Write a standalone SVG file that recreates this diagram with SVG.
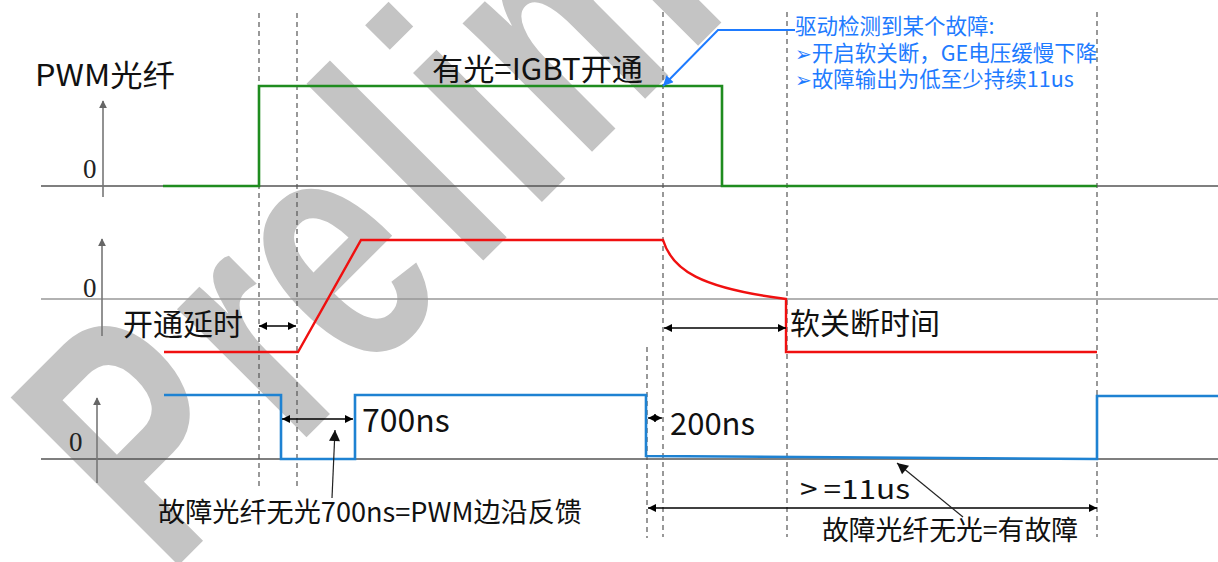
<svg xmlns="http://www.w3.org/2000/svg" width="1218" height="562" viewBox="0 0 1218 562">
<style>
.wm{font-family:"Liberation Sans",Arial,sans-serif;font-weight:bold;font-size:345px;fill:#c4c4c4}
.base{stroke:#555;stroke-width:1.6;fill:none}
.base2{stroke:#999;stroke-width:1.6;fill:none}
.guide{stroke:#555;stroke-width:1.2;stroke-dasharray:5,4;fill:none}
.yax{stroke:#777;stroke-width:1.6;fill:none}
.t{font-family:"Noto Sans CJK SC","Noto Sans",sans-serif;fill:#111}
.z{font-family:"Liberation Serif",serif;font-size:27px;fill:#222}
.blue{font-family:"Noto Sans CJK SC","Noto Sans",sans-serif;font-size:21.5px;fill:#1e7bff}
.bul{font-family:"DejaVu Sans",sans-serif;font-size:20px}
.dim{stroke:#000;stroke-width:1.3;fill:none}
.ptr{stroke:#222;stroke-width:1.2;fill:none}
</style>
<defs>
<marker id="ya" viewBox="0 0 10 10" refX="9" refY="5" markerWidth="8" markerHeight="12" markerUnits="userSpaceOnUse" orient="auto"><path d="M0,0 L10,5 L0,10 z" fill="#666"/></marker>
<marker id="da" viewBox="0 0 10 10" refX="10" refY="5" markerWidth="10" markerHeight="8" markerUnits="userSpaceOnUse" orient="auto-start-reverse"><path d="M0,0 L10,5 L0,10 z" fill="#000"/></marker>
<marker id="pa" viewBox="0 0 10 10" refX="10" refY="5" markerWidth="15" markerHeight="11" markerUnits="userSpaceOnUse" orient="auto"><path d="M0,0 L10,5 L0,10 z" fill="#111"/></marker>
<marker id="ba" viewBox="0 0 10 10" refX="10" refY="5" markerWidth="13" markerHeight="10" markerUnits="userSpaceOnUse" orient="auto"><path d="M0,0 L10,5 L0,10 z" fill="#1e7bff"/></marker>
</defs>
<rect width="1218" height="562" fill="#fff"/>
<g id="watermark"><text class="wm" transform="rotate(-45) scale(0.7,1)" x="-414" y="526" dx="0 27.6 0 31 22.6 5.4">Preliminary</text></g>
<g id="axes">
<line class="base" x1="41" y1="186" x2="1218" y2="186"/>
<line class="base2" x1="41" y1="299" x2="1218" y2="299"/>
<line class="base" x1="41" y1="459" x2="1218" y2="459"/>
<line class="yax" x1="103" y1="197" x2="103" y2="101" marker-end="url(#ya)"/>
<line class="yax" x1="102" y1="336" x2="102" y2="239" marker-end="url(#ya)"/>
<line class="yax" x1="97" y1="483" x2="97" y2="398" marker-end="url(#ya)"/>
<text class="z" x="83" y="178">0</text>
<text class="z" x="83" y="297">0</text>
<text class="z" x="69" y="451">0</text>
</g>
<g id="guides">
<line class="guide" x1="259" y1="13" x2="259" y2="488"/>
<line class="guide" x1="297" y1="13" x2="297" y2="488"/>
<line class="guide" x1="663" y1="12" x2="663" y2="537"/>
<line class="guide" x1="647" y1="347" x2="647" y2="538"/>
<line class="guide" x1="787" y1="12" x2="787" y2="537"/>
<line class="guide" x1="1097" y1="12" x2="1097" y2="537"/>
</g>
<g id="pwm-signal"><path d="M163,186 H259 V86 H722 V186 H1097" fill="none" stroke="#1f8c1f" stroke-width="2.6"/></g>
<g id="ge-signal"><path d="M164,352 H298 L361,240 H663 C672,270 700,288 786,299 V352 H1097" fill="none" stroke="#f01010" stroke-width="2.4"/></g>
<g id="fault-signal"><path d="M164,395 H281 V459 H355 V395 H646 V456 L1097,459 V396 H1218" fill="none" stroke="#1e82d2" stroke-width="2.6"/></g>
<g id="label-pwm"><text class="t" x="35" y="86" font-size="30" textLength="140" lengthAdjust="spacingAndGlyphs">PWM光纤</text></g>
<g id="label-on"><text class="t" x="432" y="80" font-size="30" textLength="211" lengthAdjust="spacingAndGlyphs">有光=IGBT开通</text></g>
<g id="label-delay"><text class="t" x="123" y="335" font-size="30">开通延时</text></g>
<g id="label-soft"><text class="t" x="790" y="334" font-size="30">软关断时间</text></g>
<g id="label-700"><text class="t" x="362" y="432" font-size="32">700ns</text></g>
<g id="label-200"><text class="t" x="670" y="435" font-size="31">200ns</text></g>
<g id="label-edge"><text class="t" x="158" y="522" font-size="27" fill="#222" textLength="424" lengthAdjust="spacingAndGlyphs">故障光纤无光700ns=PWM边沿反馈</text></g>
<g id="label-11us"><text class="t" x="800" y="499" font-size="27" textLength="110" lengthAdjust="spacingAndGlyphs">&gt;<tspan dx="5">=11us</tspan></text></g>
<g id="label-fault"><text class="t" x="822" y="540" font-size="27" fill="#222" textLength="256" lengthAdjust="spacingAndGlyphs">故障光纤无光=有故障</text></g>
<g id="callout">
<text class="blue" x="795" y="34">驱动检测到某个故障:</text>
<text class="blue" x="795" y="61"><tspan class="bul">➢</tspan>开启软关断，GE电压缓慢下降</text>
<text class="blue" x="795" y="87"><tspan class="bul">➢</tspan>故障输出为低至少持续11us</text>
</g>
<g id="connectors">
<line class="dim" x1="259" y1="326" x2="296" y2="326" marker-start="url(#da)" marker-end="url(#da)"/>
<line class="dim" x1="664" y1="328" x2="786" y2="328" marker-start="url(#da)" marker-end="url(#da)"/>
<line class="dim" x1="282" y1="419" x2="353" y2="419" marker-start="url(#da)" marker-end="url(#da)"/>
<line class="dim" x1="648" y1="418" x2="662" y2="418" stroke-width="1" marker-start="url(#da)" marker-end="url(#da)"/>
<line class="dim" x1="648" y1="508" x2="1097" y2="508" marker-start="url(#da)" marker-end="url(#da)"/>
<line class="ptr" x1="332" y1="498" x2="335" y2="430" marker-end="url(#pa)"/>
<line class="ptr" x1="963" y1="517" x2="897" y2="463" marker-end="url(#pa)"/>
<path d="M795,30 H718 L663,86" fill="none" stroke="#1e7bff" stroke-width="2" marker-end="url(#ba)"/>
</g>
</svg>
